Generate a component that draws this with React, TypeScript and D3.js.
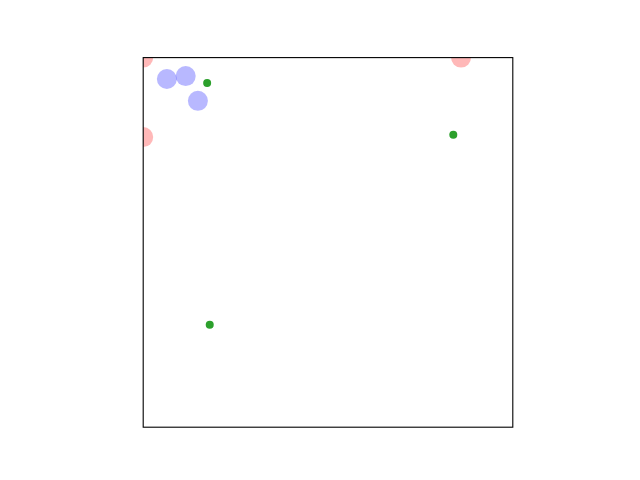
import * as d3 from "d3";
import { useRef, useEffect } from "react";

// large pale red points (clipped at the frame)
const redX = [0.0, 0.0, 0.86];
const redY = [1.0, 0.785, 1.0];

// pale blue points
const blueX = [0.064, 0.115, 0.148];
const blueY = [0.942, 0.95, 0.883];

// small green points
const greenX = [0.173, 0.839, 0.18];
const greenY = [0.931, 0.791, 0.277];

export default function App() {
  const svgRef = useRef<SVGSVGElement>(null);

  useEffect(() => {
    const svg = d3.select(svgRef.current);
    svg.selectAll("*").remove();

    // square axes box, centred like matplotlib with equal aspect
    const left = 143.2, top = 57.6, size = 369.6;

    const x = d3.scaleLinear().domain([0, 1]).range([left, left + size]);
    const y = d3.scaleLinear().domain([0, 1]).range([top + size, top]);

    svg.append("rect").attr("width", 640).attr("height", 480).attr("fill", "#fff");

    svg.append("clipPath").attr("id", "plot-clip")
      .append("rect").attr("x", left).attr("y", top).attr("width", size).attr("height", size);

    const g = svg.append("g").attr("clip-path", "url(#plot-clip)");

    const layers = [
      { xs: redX, ys: redY, r: 10, fill: "red", op: 0.28 },
      { xs: blueX, ys: blueY, r: 10, fill: "blue", op: 0.28 },
      { xs: greenX, ys: greenY, r: 4, fill: "#2ca02c", op: 1 },
    ];

    layers.forEach(l => {
      g.selectAll(null).data(l.xs.map((v, i) => [v, l.ys[i]])).enter().append("circle")
        .attr("cx", d => x(d[0])).attr("cy", d => y(d[1])).attr("r", l.r)
        .attr("fill", l.fill).attr("fill-opacity", l.op);
    });

    // frame
    svg.append("rect").attr("x", left).attr("y", top).attr("width", size).attr("height", size)
      .attr("fill", "none").attr("stroke", "#000").attr("stroke-width", 1.1);
  }, []);

  return (
    <svg ref={svgRef} width={640} height={480}
      style={{ position: "absolute", left: 0, top: 0, display: "block" }} />
  );
}
